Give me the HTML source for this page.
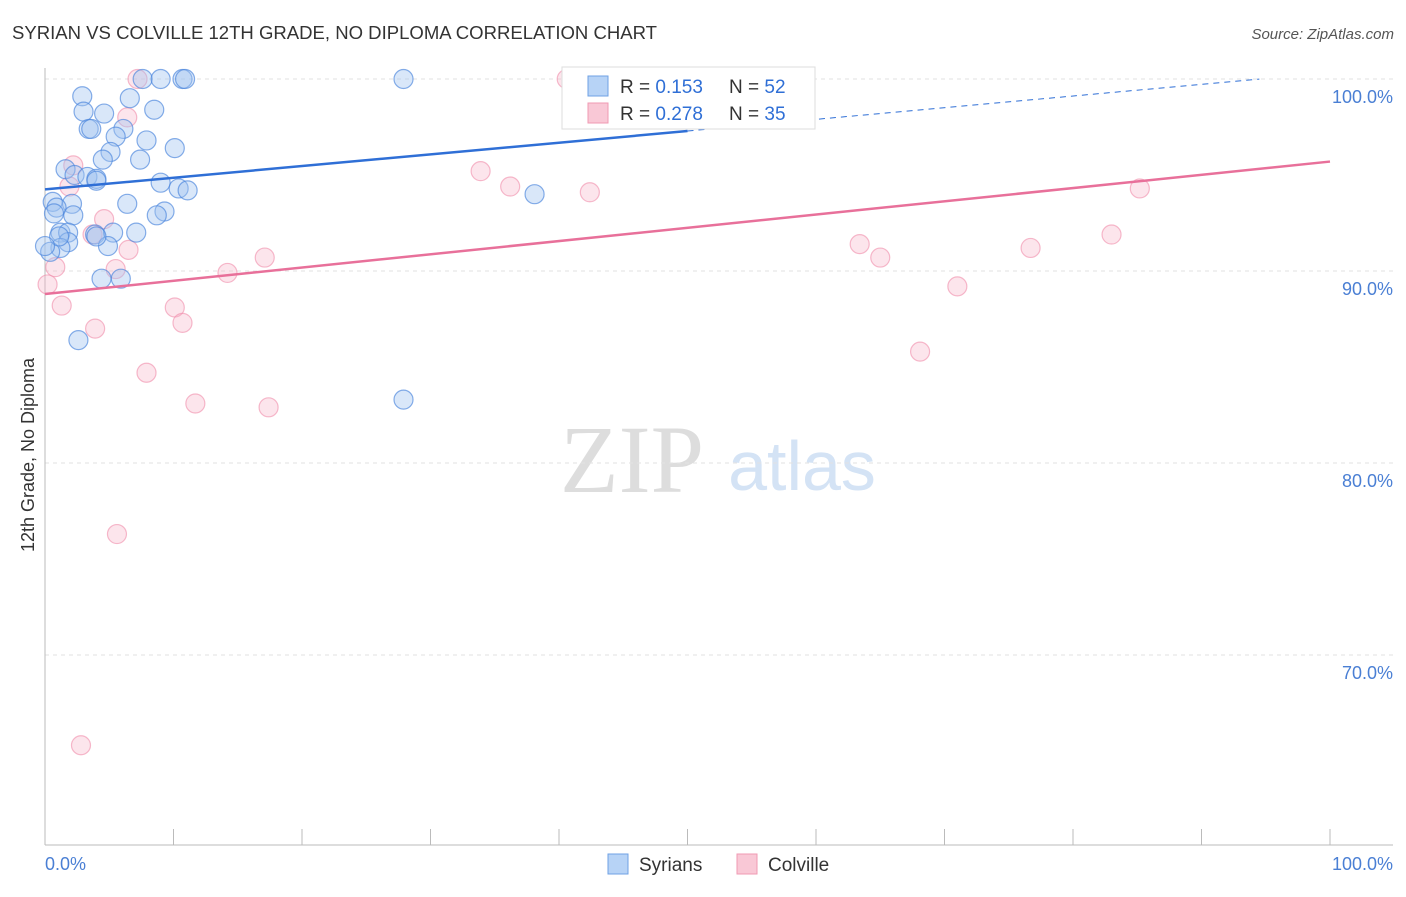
<!DOCTYPE html>
<html><head><meta charset="utf-8"><style>
body{margin:0;background:#fff;font-family:"Liberation Sans",sans-serif}
</style></head><body>
<svg id="c" width="1406" height="892" xmlns="http://www.w3.org/2000/svg">
<text x="12" y="39" font-size="18.5" fill="#333" textLength="645" lengthAdjust="spacingAndGlyphs">SYRIAN VS COLVILLE 12TH GRADE, NO DIPLOMA CORRELATION CHART</text>
<text x="1394" y="39" font-size="15" fill="#555" font-style="italic" text-anchor="end">Source: ZipAtlas.com</text>
<text x="632" y="492" font-size="96" fill="#ddd" font-family="Liberation Serif,serif" text-anchor="middle">ZIP</text>
<text x="802" y="490" font-size="70" fill="#d4e3f5" text-anchor="middle">atlas</text>
<text transform="translate(34,455) rotate(-90)" font-size="18" fill="#333" text-anchor="middle">12th Grade, No Diploma</text>
<g id="grid"></g><g id="pts"></g><g id="lines"></g>
<g>
<rect x="562" y="67" width="253" height="62" fill="#fff" stroke="#ddd"/>
<rect x="588" y="76" width="20" height="20" fill="#b7d3f6" stroke="#6fa1e4"/>
<rect x="588" y="103" width="20" height="20" fill="#f9c8d6" stroke="#f09ab3"/>
<text x="620" y="93" font-size="19" fill="#333">R = <tspan fill="#2f6fd6">0.153</tspan></text>
<text x="729" y="93" font-size="19" fill="#333">N = <tspan fill="#2f6fd6">52</tspan></text>
<text x="620" y="120" font-size="19" fill="#333">R = <tspan fill="#2f6fd6">0.278</tspan></text>
<text x="729" y="120" font-size="19" fill="#333">N = <tspan fill="#2f6fd6">35</tspan></text>
</g>
<g>
<rect x="608" y="854" width="20" height="20" fill="#b7d3f6" stroke="#6fa1e4"/>
<text x="639" y="871" font-size="19" fill="#333">Syrians</text>
<rect x="737" y="854" width="20" height="20" fill="#f9c8d6" stroke="#f09ab3"/>
<text x="768" y="871" font-size="19" fill="#333">Colville</text>
</g>
<text x="45" y="870" font-size="18" fill="#4a7fd4">0.0%</text>
<text x="1393" y="870" font-size="18" fill="#4a7fd4" text-anchor="end">100.0%</text>
</svg>
<script>
const yTicks=[100,90,80,70];
const blueX=[7.6,9.0,10.7,10.9,27.9,2.9,6.6,3.0,4.6,8.5,3.4,3.6,6.1,5.5,7.9,10.1,5.1,4.5,7.4,1.6,2.3,3.3,4.0,4.0,9.0,10.4,11.1,38.1,0.6,2.1,0.9,6.4,9.3,0.7,2.2,8.7,1.2,1.8,3.9,5.3,7.1,1.8,1.2,4.9,0.4,4.4,5.9,2.6,27.9,4.0,1.1,0];
const blueY=[100,100,100,100,100,99.1,99.0,98.3,98.2,98.4,97.4,97.4,97.4,97.0,96.8,96.4,96.2,95.8,95.8,95.3,95.0,94.9,94.8,94.7,94.6,94.3,94.2,94.0,93.6,93.5,93.3,93.5,93.1,93.0,92.9,92.9,92.0,92.0,91.9,92.0,92.0,91.5,91.2,91.3,91.0,89.6,89.6,86.4,83.3,91.8,91.8,91.3];
const pinkX=[7.2,40.6,46.0,47.2,53.5,6.4,2.2,1.9,33.9,36.2,42.4,4.6,3.7,6.5,0.8,5.5,14.2,17.1,0.2,1.3,10.1,10.7,3.9,7.9,11.7,17.4,5.6,2.8,63.4,65.0,71.0,68.1,76.7,83.0,85.2];
const pinkY=[100,100,100,100,100,98.0,95.5,94.4,95.2,94.4,94.1,92.7,91.9,91.1,90.2,90.1,89.9,90.7,89.3,88.2,88.1,87.3,87.0,84.7,83.1,82.9,76.3,65.3,91.4,90.7,89.2,85.8,91.2,91.9,94.3];
const blueTrend=[94.25,100.33];
const pinkTrend=[88.8,95.7];
const X=v=>45+v*12.85, Y=v=>79+(100-v)*19.2;
const NS='http://www.w3.org/2000/svg';
function mk(tag,attrs,parent){const e=document.createElementNS(NS,tag);for(const k in attrs)e.setAttribute(k,attrs[k]);parent.appendChild(e);return e;}
const grid=document.getElementById('grid');
yTicks.forEach(t=>{
 const l=mk('line',{x1:45,x2:1393,y1:Y(t),y2:Y(t),stroke:'#e2e2e2','stroke-dasharray':'4,4'},grid);
 
 
 const tx=mk('text',{x:1393,y:Y(t)+24,'font-size':18,fill:'#4a7fd4','text-anchor':'end'},grid);
 tx.textContent=t.toFixed(1)+'%';
 
 
});
mk('line',{x1:45,x2:45,y1:68,y2:845,stroke:'#bbb'},grid);
mk('line',{x1:45,x2:1393,y1:845,y2:845,stroke:'#bbb'},grid);
for(let i=0;i<=10;i++){mk('line',{x1:X(i*10),x2:X(i*10),y1:829,y2:845,stroke:'#bbb'},grid);}
const pts=document.getElementById('pts');
pinkX.forEach((v,i)=>{const c=mk('circle',{cx:X(v),cy:Y(pinkY[i]),r:9.5,fill:'rgba(246,180,200,0.35)',stroke:'rgba(240,140,170,0.6)','stroke-width':1.2},pts);
 
 });
blueX.forEach((v,i)=>{const c=mk('circle',{cx:X(v),cy:Y(blueY[i]),r:9.5,fill:'rgba(160,196,240,0.4)',stroke:'rgba(70,130,220,0.65)','stroke-width':1.2},pts);
 
 });
const lines=document.getElementById('lines');
const bAt=x=>blueTrend[0]+(blueTrend[1]-blueTrend[0])*x/100;
const b1=mk('line',{x1:X(0),y1:Y(bAt(0)),x2:X(50),y2:Y(bAt(50)),stroke:'#2f6fd6','stroke-width':2.5},lines);


const b2=mk('line',{x1:X(50),y1:Y(bAt(50)),x2:X(94.5),y2:Y(bAt(94.5)),stroke:'#2f6fd6','stroke-width':1,'stroke-dasharray':'6,5'},lines);


const p1=mk('line',{x1:X(0),y1:Y(pinkTrend[0]),x2:X(100),y2:Y(pinkTrend[1]),stroke:'#e8709a','stroke-width':2.5},lines);


</script>
</body></html>
